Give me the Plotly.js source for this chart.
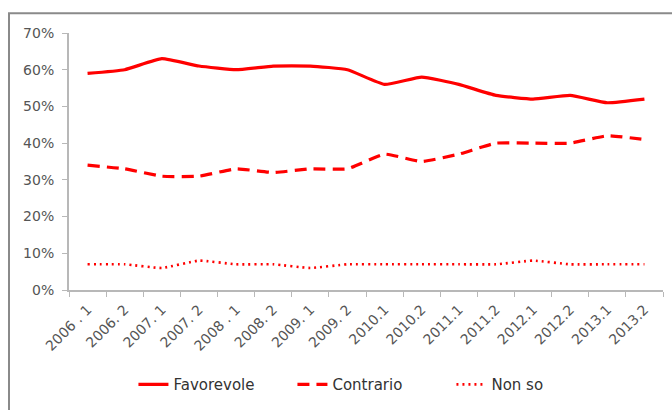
<!DOCTYPE html>
<html>
<head>
<meta charset="utf-8">
<script src="https://cdn.plot.ly/plotly-3.0.1.min.js"></script>
<style>html,body{margin:0;padding:0;background:#fff;}#chart{width:672px;height:410px;}</style>
</head>
<body>
<div id="chart"></div>
<script>
var categories = ["2006 . 1","2006. 2","2007. 1","2007. 2","2008 . 1","2008. 2","2009. 1","2009. 2","2010.1","2010.2","2011.1","2011.2","2012.1","2012.2","2013.1","2013.2"];
var favorevole = [59,60,63,61,60,61,61,60,56,58,56,53,52,53,51,52];
var contrario  = [34,33,31,31,33,32,33,33,37,35,37,40,40,40,42,41];
var nonSo      = [7,7,6,8,7,7,6,7,7,7,7,7,8,7,7,7];
var yTicks = [0,10,20,30,40,50,60,70];

var red = "#ff0000";
var traces = [
  {x: categories, y: favorevole, name: "Favorevole", type: "scatter", mode: "lines",
   line: {color: red, width: 3.2, shape: "spline", smoothing: 0.4}},
  {x: categories, y: contrario, name: "Contrario", type: "scatter", mode: "lines",
   line: {color: red, width: 3.2, shape: "spline", smoothing: 0.4, dash: "12px,7px"}},
  {x: categories, y: nonSo, name: "Non so", type: "scatter", mode: "lines",
   line: {color: red, width: 2.6, shape: "spline", smoothing: 0.4, dash: "2px,4px"}}
];

var layout = {
  width: 672, height: 410,
  margin: {l: 69, r: 9, t: 33, b: 116},
  paper_bgcolor: "#ffffff", plot_bgcolor: "#ffffff",
  font: {family: "DejaVu Sans, Verdana, sans-serif", color: "#555555", size: 13},
  showlegend: true,
  legend: {orientation: "h", x: 0.51, xanchor: "center", y: -0.368, yanchor: "middle",
           font: {size: 15, color: "#333333"}, entrywidth: 114, entrywidthmode: "pixels"},
  xaxis: {type: "category", range: [-0.5, 15.5], tickson: "boundaries", ticks: "outside", ticklen: 5, tickcolor: "#b8b8b8",
          showline: true, linecolor: "#b8b8b8", linewidth: 2, showgrid: false, zeroline: false,
          tickangle: -45, ticklabelstandoff: 4, tickfont: {size: 14, color: "#555555"}, fixedrange: true},
  yaxis: {range: [0, 70], tickvals: yTicks, ticktext: yTicks.map(function(v){return v + "%";}),
          ticks: "outside", ticklen: 5, tickcolor: "#b8b8b8", showline: true, linecolor: "#b8b8b8",
          linewidth: 2, showgrid: false, zeroline: false, ticklabelstandoff: 5,
          tickfont: {size: 14, color: "#555555"}, fixedrange: true},
  shapes: [
    {type: "rect", xref: "paper", yref: "paper", x0: -0.101, x1: 1.05, y0: -0.5, y1: 1.0766,
     line: {color: "#8a8a8a", width: 2}, layer: "below"}
  ]
};

Plotly.newPlot("chart", traces, layout, {displayModeBar: false, staticPlot: true});
</script>
</body>
</html>
